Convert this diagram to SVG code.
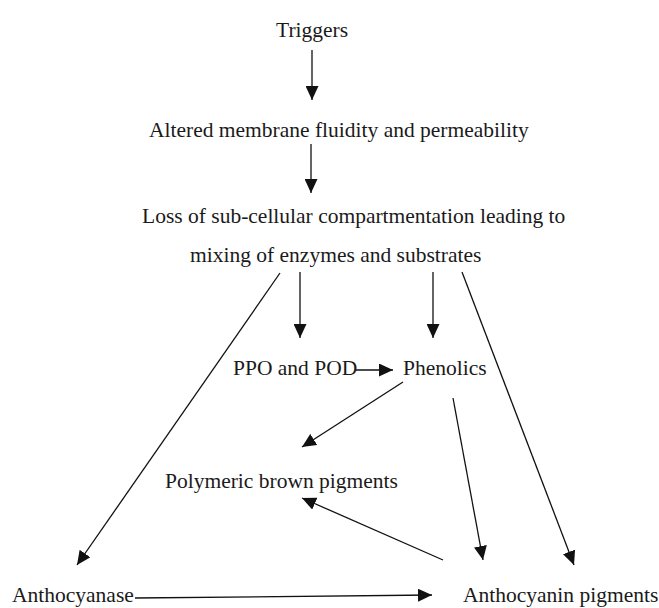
<svg xmlns="http://www.w3.org/2000/svg" width="659" height="608" viewBox="0 0 659 608">
<style>
  text { font-family: "Liberation Serif", "Times New Roman", serif; font-size: 21.5px; fill: #1a1a1a; }
  .c line { stroke: #111; stroke-width: 1.3; fill: none; marker-end: url(#ah); }
</style>
<defs>
  <marker id="ah" markerUnits="userSpaceOnUse" markerWidth="15" markerHeight="13" refX="14" refY="6.5" orient="auto" viewBox="0 0 15 13">
    <path d="M0,0 L14,6.5 L0,13 z" fill="#111"/>
  </marker>
</defs>
<rect width="659" height="608" fill="#fff"/>
<g id="triggers"><text x="276" y="37">Triggers</text></g>
<g id="altered"><text x="149" y="137">Altered membrane fluidity and permeability</text></g>
<g id="loss"><text x="142" y="223">Loss of sub-cellular compartmentation leading to</text><text x="190" y="262">mixing of enzymes and substrates</text></g>
<g id="ppo"><text x="233" y="375">PPO and POD</text></g>
<g id="phenolics"><text x="403" y="375">Phenolics</text></g>
<g id="polymeric"><text x="165" y="488">Polymeric brown pigments</text></g>
<g id="anthocyanase"><text x="12" y="602">Anthocyanase</text></g>
<g id="anthocyanin"><text x="463" y="602">Anthocyanin pigments</text></g>
<g id="connectors" class="c">
  <line x1="312" y1="50" x2="312" y2="100"/>
  <line x1="311" y1="144" x2="311" y2="193"/>
  <line x1="300" y1="272" x2="300" y2="338"/>
  <line x1="433" y1="272" x2="433" y2="338"/>
  <line x1="280" y1="273" x2="77" y2="565"/>
  <line x1="462" y1="272" x2="574" y2="565"/>
  <line x1="356" y1="370" x2="393" y2="370"/>
  <line x1="403" y1="382" x2="302" y2="447"/>
  <line x1="453" y1="398" x2="483" y2="560"/>
  <line x1="443" y1="560" x2="302" y2="498"/>
  <line x1="135" y1="598" x2="432" y2="595"/>
</g>
</svg>
